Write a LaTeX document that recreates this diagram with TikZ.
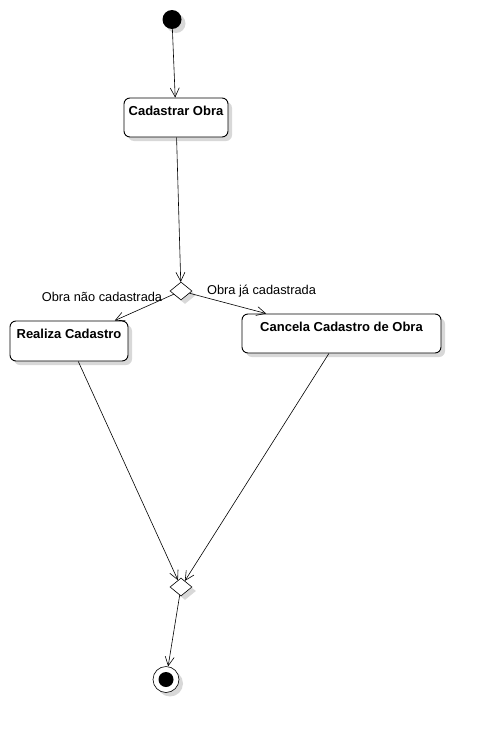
\documentclass[tikz,border=0pt]{standalone}
\usepackage{fontspec}
\setmainfont{Liberation Sans}
\usetikzlibrary{arrows.meta, shapes.geometric, shadows}

\begin{document}
\begin{tikzpicture}[x=1pt, y=-1pt,
        shadowed/.style={drop shadow={shadow xshift=4pt, shadow yshift=-4pt, fill=black!30, opacity=0.5}},
        activity/.style={draw, line width=0.9pt, rounded corners=6pt, fill=white, shadowed,
            inner xsep=2pt, inner ysep=3pt, text height=14pt, text depth=19pt,
            font=\fontsize{13}{15}\selectfont\bfseries},
        decision/.style={diamond, draw, line width=0.6pt, fill=white, shadowed,
            inner sep=0pt, minimum width=22pt, minimum height=18pt},
        flow/.style={line width=0.6pt, arrows={-Straight Barb[length=9pt, width=9pt]}},
        guard/.style={anchor=base, font=\fontsize{12.8}{15}\selectfont}]
    \useasboundingbox (0,0) rectangle (481,731);
    % start and end
    \node (start) [circle, fill, minimum size=19pt, inner sep=0pt, shadowed] at (172,19.5) {};
    \node (end) [circle, draw, line width=0.6pt, fill=white, minimum size=26pt, inner sep=0pt, shadowed] at (166,679.5) {};
    \node (endDot) [circle, fill, minimum size=15pt, inner sep=0pt] at (end) {};
    % activities
    \node (cadastrar) [activity, minimum width=104pt, minimum height=39pt] at (176,117.5) {Cadastrar Obra};
    \node (realiza) [activity, minimum width=118pt, minimum height=40pt] at (69,341) {Realiza Cadastro};
    \node (cancela) [activity, minimum width=199pt, minimum height=39pt] at (341.5,333.5) {Cancela Cadastro de Obra};
    % decision and merge
    \node (dec1) [decision] at (181,291) {};
    \node (dec2) [decision] at (181,587) {};
    % guards
    \node (guardNew) [guard] at (102,301.5) {Obra não cadastrada};
    \node (guardDone) [guard] at (261.5,294) {Obra já cadastrada};
    % flows
    \draw [flow] (start) -- (cadastrar);
    \draw [flow] (cadastrar) -- (dec1);
    \draw [flow] (dec1) -- (realiza);
    \draw [flow] (dec1) -- (cancela);
    \draw [flow] (realiza) -- (dec2);
    \draw [flow] (cancela) -- (dec2);
    \draw [flow] (dec2) -- (end);
\end{tikzpicture}
\end{document}
